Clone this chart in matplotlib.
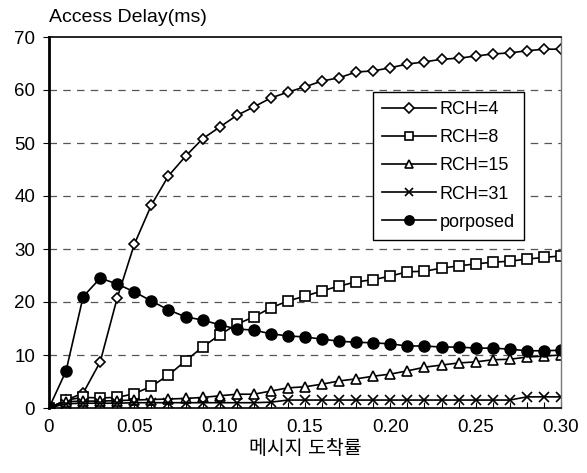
import numpy as np
import matplotlib
matplotlib.use('Agg')
import matplotlib.pyplot as plt
from matplotlib.ticker import MultipleLocator

plt.rcParams['font.family'] = ['Liberation Sans', 'Noto Sans CJK KR']

x = [i / 100 for i in range(31)]

rch4 = [0, 1.5, 2.8, 8.7, 20.8, 30.9, 38.3, 43.8, 47.5, 50.8, 53.0,
        55.2, 56.8, 58.5, 59.6, 60.6, 61.7, 62.3, 63.4, 63.6, 64.2,
        64.9, 65.3, 65.8, 66.0, 66.4, 66.8, 67.0, 67.4, 67.7, 67.7]
rch8 = [0, 1.5, 2.0, 1.9, 2.0, 2.7, 4.1, 6.2, 8.9, 11.5, 13.8,
        15.8, 17.2, 18.9, 20.2, 21.1, 22.1, 23.0, 23.8, 24.2, 24.9,
        25.7, 25.8, 26.4, 26.8, 27.2, 27.5, 27.7, 28.1, 28.4, 28.7]
rch15 = [0, 1.2, 1.3, 1.3, 1.4, 1.5, 1.6, 1.7, 1.8, 2.0, 2.3,
         2.6, 2.6, 3.2, 3.8, 4.0, 4.5, 5.1, 5.5, 6.0, 6.4,
         7.0, 7.7, 8.1, 8.5, 8.7, 9.1, 9.2, 9.6, 9.8, 10.0]
rch31 = [0, 0.8, 0.9, 0.9, 0.9, 1.0, 1.0, 1.0, 1.0, 1.0, 1.0,
         1.0, 1.0, 1.1, 1.5, 1.5, 1.5, 1.5, 1.5, 1.5, 1.5,
         1.5, 1.5, 1.5, 1.5, 1.5, 1.5, 1.5, 2.1, 2.1, 2.1]
proposed = [0, 7.0, 21.0, 24.5, 23.4, 21.9, 20.2, 18.5, 17.2, 16.6, 15.7,
            14.9, 14.7, 14.0, 13.6, 13.4, 13.0, 12.6, 12.4, 12.3, 12.1,
            11.7, 11.7, 11.5, 11.5, 11.3, 11.3, 11.1, 10.8, 10.8, 10.9]

labels = ['RCH=4', 'RCH=8', 'RCH=15', 'RCH=31', 'porposed']
xticks = [0, 0.05, 0.10, 0.15, 0.20, 0.25, 0.30]
xticklabels = ['0', '0.05', '0.10', '0.15', '0.20', '0.25', '0.30']

fig = plt.figure(figsize=(5.87, 4.73), dpi=100)
ax = fig.add_axes([49 / 587, 65 / 473, 512 / 587, 371 / 473])

ax.plot(x, rch4, color='black', lw=1.2, marker='D', ms=5.5, mfc='white', mec='black', mew=1.2, label=labels[0])
ax.plot(x, rch8, color='black', lw=1.2, marker='s', ms=6.5, mfc='white', mec='black', mew=1.2, label=labels[1])
ax.plot(x, rch15, color='black', lw=1.2, marker='^', ms=7, mfc='white', mec='black', mew=1.2, label=labels[2])
ax.plot(x, rch31, color='black', lw=1.2, marker='x', ms=7, mec='black', mew=1.2, label=labels[3])
ax.plot(x, proposed, color='black', lw=1.2, marker='o', ms=8, mfc='black', mec='black', label=labels[4])

ax.set_xlim(0, 0.30)
ax.set_ylim(0, 70)
ax.set_yticks(range(0, 71, 10))
ax.set_xticks(xticks)
ax.set_xticklabels(xticklabels)
ax.xaxis.set_minor_locator(MultipleLocator(0.01))
ax.tick_params(axis='x', which='both', direction='in', length=4, width=0.8, pad=8, labelsize=13.5)
ax.tick_params(axis='y', which='major', direction='out', length=4, width=0.8, pad=6, labelsize=13.5)

for v in range(10, 70, 10):
    ax.axhline(v, color='#555555', lw=0.9, ls=(0, (6, 5)), zorder=0)

ax.spines['left'].set_linewidth(2)
ax.spines['bottom'].set_linewidth(1.2)
ax.spines['top'].set_linewidth(1.2)
ax.spines['right'].set_color('#777777')
ax.spines['right'].set_linewidth(1)

leg = ax.legend(loc='upper right', bbox_to_anchor=(0.928, 0.852), fontsize=13,
                handlelength=3.0, fancybox=False, edgecolor='black', markerscale=0.85,
                framealpha=1, borderpad=0.5, labelspacing=0.62, handletextpad=0.2,
                borderaxespad=0)
leg.get_frame().set_linewidth(1)

ax.set_xlabel('메시지 도착률', fontsize=14, labelpad=3)
fig.text(49 / 587, 1 - 17 / 473, 'Access Delay(ms)', fontsize=14, va='center', ha='left')

fig.savefig('out.png', dpi=100)
